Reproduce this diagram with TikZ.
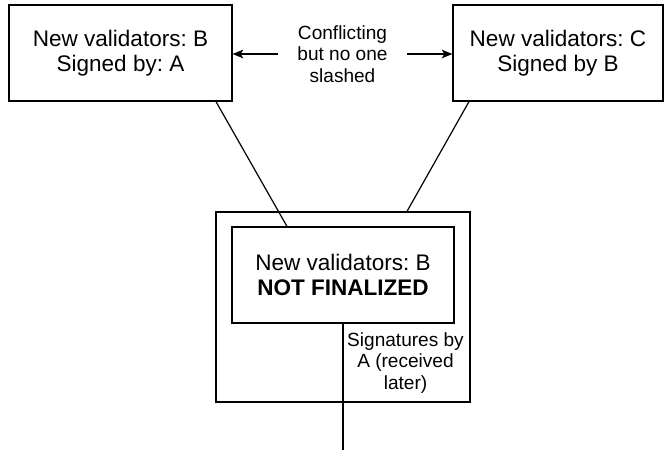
\documentclass[tikz,border=0pt]{standalone}
\usepackage{fontspec}
\setmainfont{Liberation Sans}
\usetikzlibrary{arrows.meta, positioning, calc}
\frenchspacing

\begin{document}
\begin{tikzpicture}[x=0.75pt, y=-0.75pt, line width=0.9pt,
    block/.style={draw, rectangle, align=center, inner sep=0pt,
      font=\fontsize{16.9}{18.8}\selectfont},
    note/.style={align=center, inner ysep=0pt, inner xsep=14pt,
      font=\fontsize{14.3}{16.1}\selectfont},
    tip/.style={-{Stealth[length=8pt, width=6.5pt, inset=2pt]}}]
  \useasboundingbox (0,0) rectangle (667,452);
  % the two competing validator sets
  \node[block, minimum width=167.25pt, minimum height=72pt] (setB) at (120.5,53)
    {New validators: B\\Signed by: A};
  \node[block, minimum width=157.5pt, minimum height=72pt] (setC) at (558,53)
    {New validators: C\\Signed by B};
  \node[note] (conflict) at (342.5,54) {Conflicting\\but no one\\slashed};
  \draw[tip] (conflict.west) -- (setB.east |- conflict.west);
  \draw[tip] (conflict.east) -- (setC.west |- conflict.east);
  % pending set, wrapped in an outer frame
  \node[draw, minimum width=190.5pt, minimum height=142.5pt] (frame) at (343,307) {};
  \node[block, minimum width=166.5pt, minimum height=72pt] (pending) at (343,275)
    {New validators: B\\\textbf{NOT FINALIZED}};
  \draw ([xshift=71.6pt]setB.south) -- ([xshift=-42pt]pending.north);
  \draw ([xshift=-66.75pt]setC.south) -- ([xshift=48pt]frame.north);
  % late signatures
  \coordinate (tail) at (343,450);
  \draw (pending.south) -- (tail);
  \node[note, inner xsep=0pt] (sigs) at (405.5,363) {Signatures by\\A (received\\later)};
\end{tikzpicture}
\end{document}
